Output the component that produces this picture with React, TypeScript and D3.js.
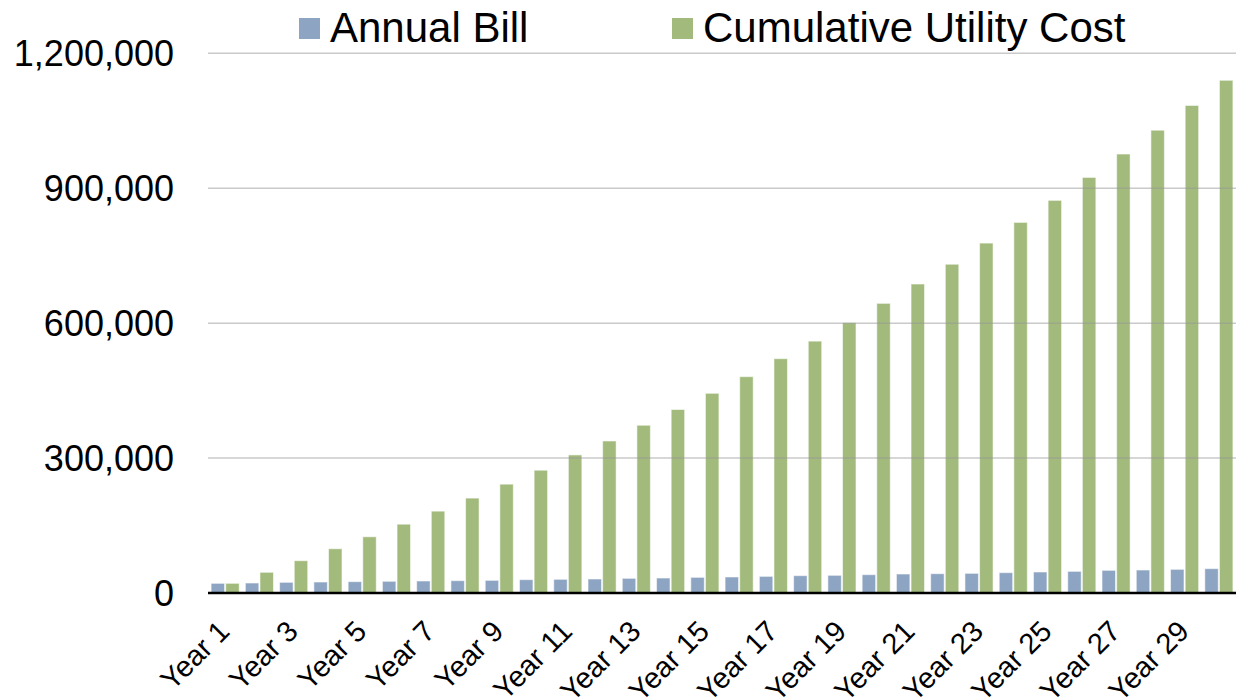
import React, { useEffect, useRef } from 'react'
import * as d3 from 'd3'

// categories
const years: string[] = d3.range(1, 31).map((d) => `Year ${d}`)

// series values
const annualBill: number[] = [
  21500, 22200, 23700, 24400, 25200, 26000, 26700, 27400, 28100, 29600,
  30400, 31100, 32600, 33300, 34800, 35600, 37000, 38500, 39300, 40700,
  42200, 42900, 43700, 45200, 46700, 48100, 50400, 51100, 52600, 54100,
]

const cumulativeCost: number[] = [
  21500, 46000, 71800, 98400, 125000, 153000, 182000, 211000, 242000, 273000,
  307000, 338000, 373000, 408000, 444000, 481000, 521000, 560000, 601000, 644000,
  687000, 731000, 778000, 824000, 873000, 924000, 976000, 1029000, 1084000, 1140000,
]

const seriesNames: string[] = ['Annual Bill', 'Cumulative Utility Cost']
const yTicks: number[] = [0, 300000, 600000, 900000, 1200000]

const colors = ['#8da5c2', '#a2bb7d']
const font = '"Liberation Sans", Arial, sans-serif'

export default function App() {
  const ref = useRef<SVGSVGElement>(null)

  useEffect(() => {
    const svg = d3.select(ref.current)
    svg.selectAll('*').remove()

    const margin = { top: 53.3, right: 7, bottom: 107, left: 208 }
    const width = 1243 - margin.left - margin.right
    const height = 700 - margin.top - margin.bottom

    const g = svg.append('g')
      .attr('transform', `translate(${margin.left}, ${margin.top})`)

    const x = d3.scaleBand<string>()
      .domain(years)
      .range([0, width])
      .paddingInner(0.18)
      .paddingOuter(0.09)

    const x1 = d3.scaleBand<number>()
      .domain([0, 1])
      .range([0, x.bandwidth()])
      .paddingInner(0.08)

    const y = d3.scaleLinear()
      .domain([0, 1200000])
      .range([height, 0])

    const rows = years.map((yr, i) => ({ yr, values: [annualBill[i], cumulativeCost[i]] }))

    // bars
    const groups = g.selectAll('.grp')
      .data(rows)
      .enter()
      .append('g')
      .attr('transform', (d) => `translate(${x(d.yr)}, 0)`)

    groups.selectAll('rect')
      .data((d) => d.values.map((v, k) => ({ v, k })))
      .enter()
      .append('rect')
      .attr('x', (d) => x1(d.k) as number)
      .attr('width', x1.bandwidth())
      .attr('y', (d) => y(d.v))
      .attr('height', (d) => height - y(d.v))
      .attr('fill', (d) => colors[d.k])
      .attr('stroke', 'rgba(255,255,255,0.55)')
      .attr('stroke-width', 1)

    // gridlines drawn over the bars
    g.append('g')
      .selectAll('line')
      .data(yTicks.filter((t) => t > 0))
      .enter()
      .append('line')
      .attr('x1', 0)
      .attr('x2', width)
      .attr('y1', (d) => y(d))
      .attr('y2', (d) => y(d))
      .attr('stroke', 'rgba(150,150,150,0.5)')
      .attr('stroke-width', 1.5)

    // baseline
    g.append('line')
      .attr('x1', 0)
      .attr('x2', width)
      .attr('y1', height)
      .attr('y2', height)
      .attr('stroke', '#000')
      .attr('stroke-width', 2.5)

    // y axis labels
    const fmt = d3.format(',')
    const yAxis = d3.axisLeft(y)
      .tickValues(yTicks)
      .tickSize(0)
      .tickPadding(34)
      .tickFormat((d) => fmt(d as number))
    const ya = g.append('g').call(yAxis)
    ya.select('.domain').remove()
    ya.selectAll('text')
      .attr('font-family', font)
      .attr('font-size', 36)
      .attr('fill', '#000')
      .attr('dy', '0.35em')

    // x axis labels, every other year
    g.append('g')
      .selectAll('text')
      .data(years.filter((_, i) => i % 2 === 0))
      .enter()
      .append('text')
      .attr('transform', (d) => `translate(${(x(d) as number) + x.bandwidth() / 2 + 6}, ${height + 40}) rotate(-45)`)
      .attr('text-anchor', 'end')
      .attr('font-family', font)
      .attr('font-size', 29)
      .attr('fill', '#000')
      .text((d) => d)

    // legend
    const legendX = [299, 672]
    const legend = svg.append('g')
    seriesNames.forEach((name, i) => {
      legend.append('rect')
        .attr('x', legendX[i])
        .attr('y', 18)
        .attr('width', 21)
        .attr('height', 21)
        .attr('fill', colors[i])
      legend.append('text')
        .attr('x', legendX[i] + 31)
        .attr('y', 42)
        .attr('font-family', font)
        .attr('font-size', 42)
        .attr('fill', '#000')
        .text(name)
    })
  }, [])

  return (
    <svg
      ref={ref}
      width={1243}
      height={700}
      style={{ position: 'absolute', left: 0, top: 0, background: '#fff' }}
    />
  )
}
